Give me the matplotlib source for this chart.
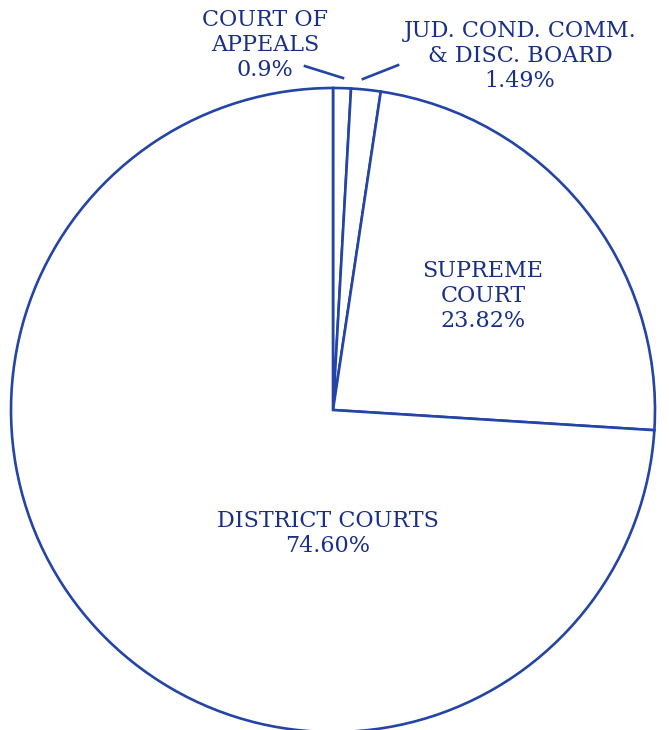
import matplotlib.pyplot as plt

# Share of judicial budget by court
courts = ['COURT OF\nAPPEALS', 'JUD. COND. COMM.\n& DISC. BOARD',
          'SUPREME\nCOURT', 'DISTRICT COURTS']
shares = [0.9, 1.49, 23.82, 74.60]
share_text = ['0.9%', '1.49%', '23.82%', '74.60%']

ink = '#1a3088'
line = '#2444a6'

fig = plt.figure(figsize=(6.69, 7.30), dpi=100)
ax = fig.add_axes([11 / 669, -2 / 730, 644 / 669, 644 / 730])

ax.pie(shares, startangle=90, counterclock=False, radius=1,
       wedgeprops=dict(facecolor='white', edgecolor=line, linewidth=1.9),
       normalize=True)
for w in ax.patches:
    w.set_clip_on(False)

# pie() resets the limits, so pin them afterwards
ax.set_xlim(-1, 1)
ax.set_ylim(-1, 1)
ax.set_aspect('equal')
ax.axis('off')

font = dict(family='DejaVu Serif', fontsize=16, color=ink,
            ha='center', va='center', linespacing=1.18)

# label positions (data units, radius 1)
spots = [(-0.211, 1.133), (0.581, 1.100), (0.466, 0.354), (-0.016, -0.385)]
for name, pct, (x, y) in zip(courts, share_text, spots):
    ax.text(x, y, name + '\n' + pct, clip_on=False, **font)

# leader lines for the two thin slices
ax.plot([-0.087, 0.031], [1.068, 1.031], color=line, lw=1.9, clip_on=False)
ax.plot([0.093, 0.202], [1.028, 1.071], color=line, lw=1.9, clip_on=False)

fig.savefig('out.png', dpi=100, facecolor='white')
